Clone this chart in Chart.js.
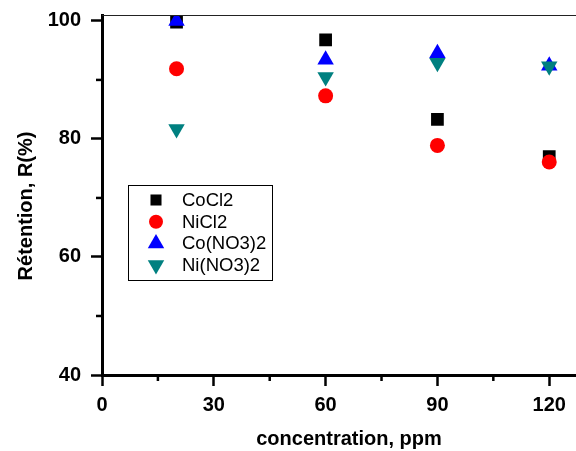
<!DOCTYPE html>
<html><head><meta charset="utf-8">
<script src="https://cdn.jsdelivr.net/npm/chart.js@4"></script>
<style>html,body{margin:0;padding:0;overflow:hidden;background:#fff;width:576px;height:451px}</style>
</head><body>
<canvas id="c" width="600" height="451" style="display:block"></canvas>
<script>
const concentrations = [20, 60, 90, 120];
const coCl2 = [99.8, 96.8, 83.3, 77.0];
const niCl2 = [91.9, 87.3, 78.9, 76.1];
const coNO3 = [100.0, 93.4, 94.5, 92.4];
const niNO3 = [81.7, 90.5, 92.9, 92.3];
const seriesNames = ['CoCl2', 'NiCl2', 'Co(NO3)2', 'Ni(NO3)2'];
const xTicks = [0, 30, 60, 90, 120];
const xMinorTicks = [15, 45, 75, 105];
const yTicks = [40, 60, 80, 100];
const yMinorTicks = [50, 70, 90];
const xTitle = 'concentration, ppm';
const yTitle = 'Rétention, R(%)';

const FONT = "'Liberation Sans', Arial, sans-serif";
const styles = [
  {color: '#000000', pointStyle: 'rect', radius: 9, rotation: 0, legendRadius: 7.8, order: 4},
  {color: '#ff0000', pointStyle: 'circle', radius: 7.5, rotation: 0, legendRadius: 7, order: 3},
  {color: '#0000ff', pointStyle: 'triangle', radius: 9.5, rotation: 0, legendRadius: 9.5, order: 2},
  {color: '#008080', pointStyle: 'triangle', radius: 9.5, rotation: 180, legendRadius: 9.5, order: 1}
];
const seriesValues = [coCl2, niCl2, coNO3, niNO3];

const datasets = seriesValues.map((vals, i) => ({
  label: seriesNames[i],
  data: concentrations.map((x, j) => ({x: x, y: vals[j]})),
  backgroundColor: styles[i].color,
  borderColor: styles[i].color,
  borderWidth: 0,
  pointStyle: styles[i].pointStyle,
  pointRadius: styles[i].radius,
  pointHoverRadius: styles[i].radius,
  rotation: styles[i].rotation,
  pointRotation: styles[i].rotation,
  order: styles[i].order,
  clip: 0,
  showLine: false
}));

function drawMarker(ctx, st, r, x, y) {
  ctx.save();
  ctx.fillStyle = st.color;
  ctx.strokeStyle = st.color;
  if (Chart.helpers && Chart.helpers.drawPoint) {
    Chart.helpers.drawPoint(ctx, {pointStyle: st.pointStyle, radius: r, rotation: st.rotation, borderWidth: 0}, x, y);
  }
  ctx.restore();
}

const decorPlugin = {
  id: 'decor',
  afterDraw(chart) {
    const ctx = chart.ctx;
    const a = chart.chartArea;
    const xs = chart.scales.x, ys = chart.scales.y;
    ctx.save();
    ctx.strokeStyle = '#222';
    ctx.lineWidth = 1;
    ctx.beginPath();
    ctx.moveTo(a.left, a.top + 0.5);
    ctx.lineTo(a.right, a.top + 0.5);
    ctx.stroke();
    ctx.strokeStyle = '#000';
    ctx.lineWidth = 2.5;
    xMinorTicks.forEach(v => {
      const px = xs.getPixelForValue(v);
      ctx.beginPath();
      ctx.moveTo(px, a.bottom);
      ctx.lineTo(px, a.bottom + 6);
      ctx.stroke();
    });
    yMinorTicks.forEach(v => {
      const py = ys.getPixelForValue(v);
      ctx.beginPath();
      ctx.moveTo(a.left, py);
      ctx.lineTo(a.left - 6, py);
      ctx.stroke();
    });
    ctx.fillStyle = '#000';
    ctx.font = 'bold 20px ' + FONT;
    ctx.textAlign = 'center';
    ctx.textBaseline = 'middle';
    ctx.fillText(xTitle, 349, 439);
    ctx.save();
    ctx.translate(26, 206);
    ctx.rotate(-Math.PI / 2);
    ctx.fillText(yTitle, 0, 0);
    ctx.restore();
    ctx.fillStyle = '#fff';
    ctx.fillRect(128.5, 185.5, 144, 95);
    ctx.strokeStyle = '#000';
    ctx.lineWidth = 1;
    ctx.strokeRect(128.5, 185.5, 144, 95);
    ctx.font = '18.5px ' + FONT;
    ctx.textAlign = 'left';
    seriesNames.forEach((name, i) => {
      const y = 200 + i * 21.7;
      drawMarker(ctx, styles[i], styles[i].legendRadius, 156, y);
      ctx.fillStyle = '#000';
      ctx.fillText(name, 182, y + 1);
    });
    ctx.restore();
  }
};

new Chart(document.getElementById('c'), {
  type: 'scatter',
  data: {datasets: datasets},
  options: {
    responsive: false,
    animation: false,
    events: [],
    layout: {padding: {top: 15, right: 13.5, left: 0, bottom: 0}},
    plugins: {legend: {display: false}, tooltip: {enabled: false}},
    scales: {
      x: {
        type: 'linear', min: 0, max: 130,
        afterBuildTicks: s => { s.ticks = xTicks.map(v => ({value: v})); },
        afterFit: s => { s.height = 76; s.paddingLeft = 0; s.paddingRight = 0; },
        grid: {drawOnChartArea: false, drawTicks: true, tickLength: 11, tickWidth: 2.5, tickColor: '#000', color: '#000'},
        border: {display: true, color: '#000', width: 3},
        ticks: {font: {family: FONT, size: 20, weight: 'bold'}, color: '#000', padding: 7, maxRotation: 0, autoSkip: false}
      },
      y: {
        type: 'linear', min: 40, max: 101,
        afterBuildTicks: s => { s.ticks = yTicks.map(v => ({value: v})); },
        afterFit: s => { s.width = 102; s.paddingTop = 0; s.paddingBottom = 0; },
        grid: {drawOnChartArea: false, drawTicks: true, tickLength: 11, tickWidth: 2.5, tickColor: '#000', color: '#000'},
        border: {display: true, color: '#000', width: 3},
        ticks: {font: {family: FONT, size: 20, weight: 'bold'}, color: '#000', padding: 10, autoSkip: false}
      }
    }
  },
  plugins: [decorPlugin]
});
</script>
</body></html>
